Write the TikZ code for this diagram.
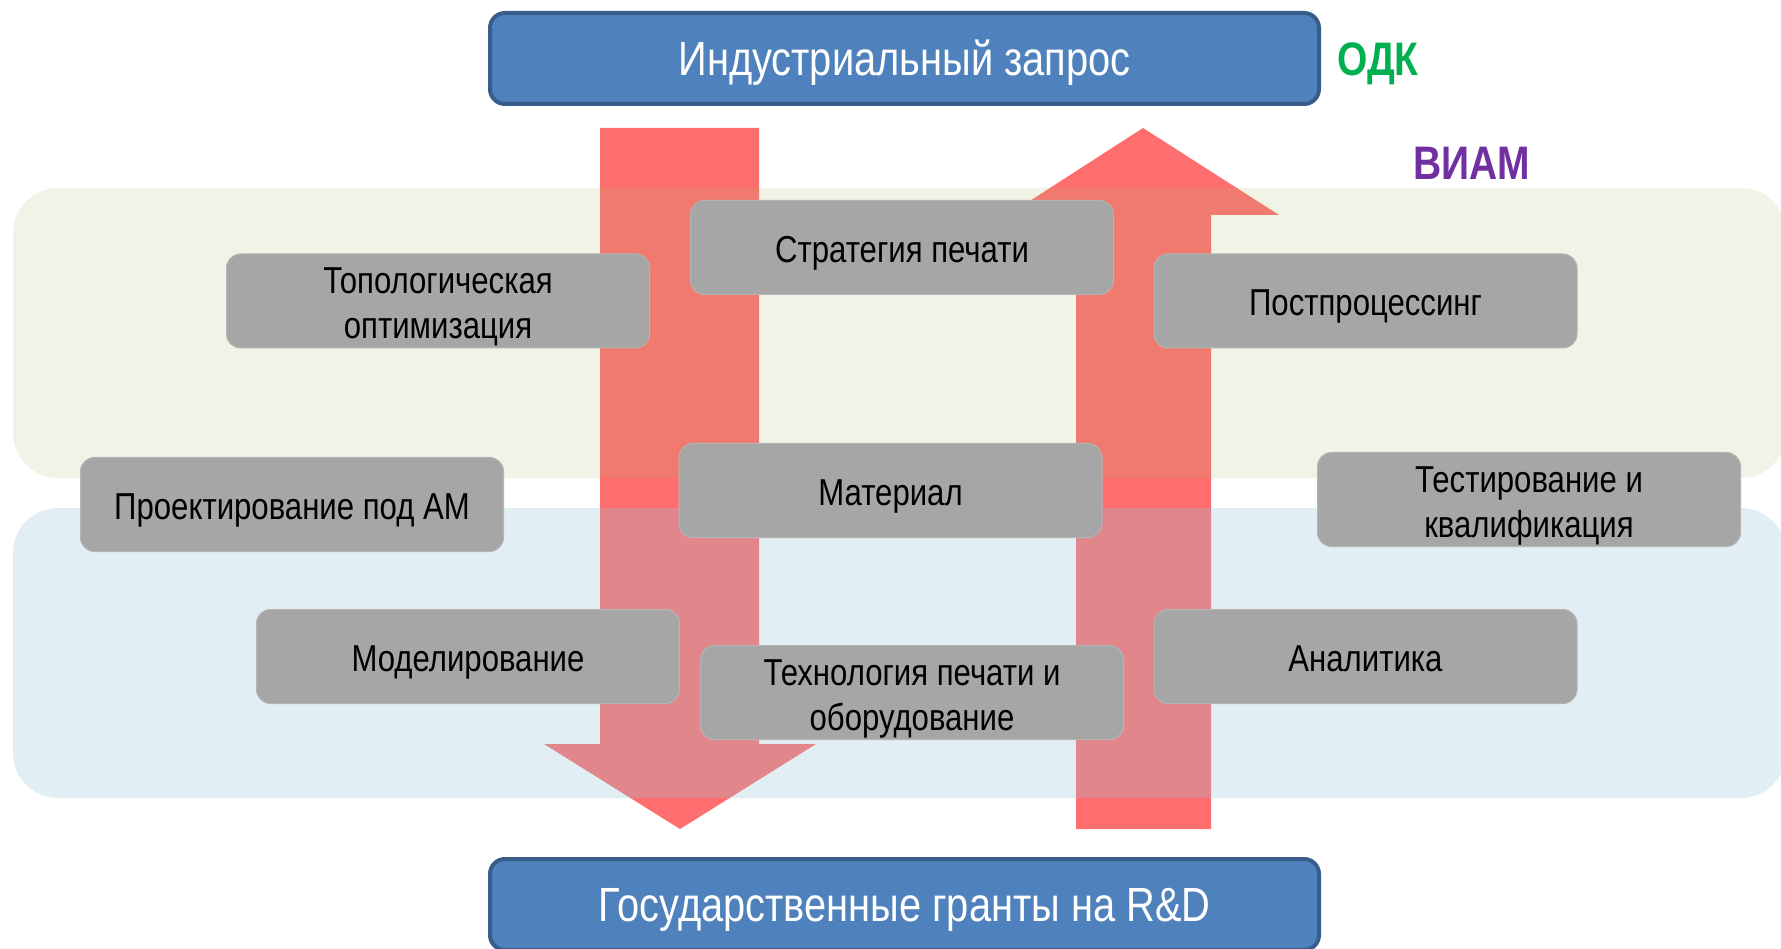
\documentclass[tikz,border=0pt]{standalone}
\usepackage{fontspec}
\setmainfont{Liberation Sans}[FakeStretch=0.83]
\definecolor{arrowred}{RGB}{255,110,110}
\definecolor{gband}{RGB}{167,184,108}
\definecolor{bband}{RGB}{148,201,219}
\definecolor{boxgray}{RGB}{166,166,166}
\definecolor{boxedge}{RGB}{180,180,180}
\definecolor{topblue}{RGB}{79,129,189}
\definecolor{topborder}{RGB}{56,93,138}
\definecolor{odk}{RGB}{0,176,80}
\definecolor{viam}{RGB}{112,48,160}
\newcommand{\lowtxt}[1]{\raisebox{-6pt}[\height][\depth]{\begin{tabular}{@{}c@{}}#1\end{tabular}}}
\begin{document}
\begin{tikzpicture}[x=1pt,y=-1pt,
  graybox/.style={fill=boxgray,draw=boxedge,line width=1pt,rounded corners=14pt,
    minimum width=423pt,minimum height=94pt,inner sep=0pt,
    font=\fontsize{37.5}{45}\selectfont,text=black},
  bluebox/.style={fill=topblue,draw=topborder,line width=4pt,rounded corners=15pt,
    minimum width=829pt,minimum height=91pt,inner sep=0pt,
    font=\fontsize{48}{54}\selectfont,text=white},
  bandg/.style={fill=gband,fill opacity=0.17,rounded corners=45pt},
  bandb/.style={fill=bband,fill opacity=0.28,rounded corners=45pt},
  bigarrow/.style={fill=arrowred},
  orglabel/.style={font=\fontsize{47}{52}\selectfont\bfseries,anchor=west,inner sep=0pt}
]
\useasboundingbox (0,0) rectangle (1781,949);
\fill[white] (0,0) rectangle (1781,949);
% big arrows
\fill[bigarrow] (600,128) -- (759,128) -- (759,744) -- (816,744) -- (680,829) -- (544,744) -- (600,744) -- cycle;
\fill[bigarrow] (1076,829) -- (1211,829) -- (1211,215) -- (1279,215) -- (1143,128) -- (1008,215) -- (1076,215) -- cycle;
% bands
\fill[bandg] (13,188) rectangle (1786,478);
\fill[bandb] (13,508) rectangle (1786,798);
% blue boxes
\node[bluebox] (req) at (904.5,58.5) {\lowtxt{Индустриальный запрос}};
\node[bluebox] (grant) at (904.5,904.5) {\lowtxt{Государственные гранты на R\&D}};
% labels
\node[orglabel,text=odk] (odk) at (1337,64) {ОДК};
\node[orglabel,text=viam] (viam) at (1413,163) {ВИАМ};
% gray boxes
\node[graybox] (strat) at (902,247.5) {\lowtxt{Стратегия печати}};
\node[graybox] (topo) at (438,301) {\lowtxt{Топологическая\\оптимизация}};
\node[graybox] (post) at (1365.5,301) {\lowtxt{Постпроцессинг}};
\node[graybox] (proj) at (292,504.5) {\lowtxt{Проектирование под АМ}};
\node[graybox] (mat) at (890.5,490.5) {\lowtxt{Материал}};
\node[graybox] (test) at (1529,499.5) {\lowtxt{Тестирование и\\квалификация}};
\node[graybox] (model) at (468,656.5) {\lowtxt{Моделирование}};
\node[graybox] (tech) at (912,692.5) {\lowtxt{Технология печати и\\оборудование}};
\node[graybox] (anal) at (1365.5,656.5) {\lowtxt{Аналитика}};
\end{tikzpicture}
\end{document}
